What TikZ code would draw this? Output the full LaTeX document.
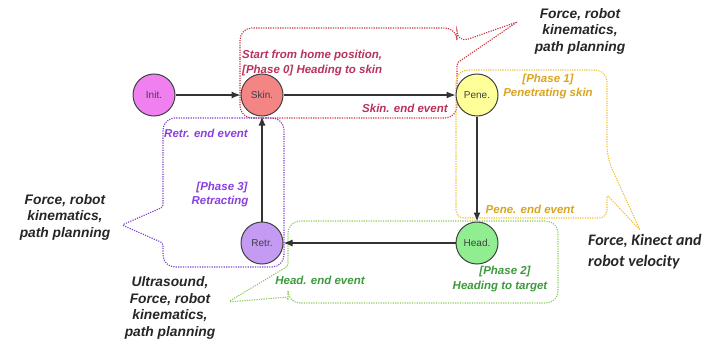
\documentclass[tikz,border=0pt]{standalone}
\usepackage{fontspec}
\setmainfont{Liberation Sans}
\newfontfamily\calib{Carlito}
\usetikzlibrary{arrows.meta}

\definecolor{redtext}{HTML}{B8325A}
\definecolor{redline}{HTML}{C8303C}
\definecolor{yellowtext}{HTML}{D9A520}
\definecolor{yellowline}{HTML}{F0C030}
\definecolor{greentext}{HTML}{3C9A3C}
\definecolor{greenline}{HTML}{8CCB5A}
\definecolor{purpletext}{HTML}{8A3FE0}
\definecolor{purpleline}{HTML}{7A40C8}
\definecolor{initfill}{HTML}{F080F0}
\definecolor{skinfill}{HTML}{F38585}
\definecolor{penefill}{HTML}{FFFF99}
\definecolor{headfill}{HTML}{90EE90}
\definecolor{retrfill}{HTML}{C49AF3}

\begin{document}
\begin{tikzpicture}[x=1pt,y=-1pt,
  state/.style={circle, draw=black!75, line width=1pt, minimum size=42pt,
    inner sep=0pt, font=\fontsize{10}{12}\selectfont, text=black!75},
  flow/.style={draw=black!80, line width=1.2pt, -{Latex[length=9pt,width=7pt]}},
  callout/.style={line width=1.1pt, dash pattern=on 1.2pt off 1.2pt, rounded corners=12pt},
  lbl/.style={font=\fontsize{11.5}{14}\selectfont\bfseries\itshape, inner sep=0pt},
  info/.style={font=\fontsize{13.8}{16.5}\selectfont\bfseries\itshape, align=center,
    inner sep=0pt, text=black!85}]
\useasboundingbox (0,0) rectangle (708,340);

% phase callouts
\draw[callout, redline] (240,70) -- (240,28) -- (457,28) -- (457,43)
  [rounded corners=2pt] -- (517,22) -- (457,63) [rounded corners=12pt]
  -- (457,118) -- (240,118) -- cycle;
\draw[callout, yellowline] (456,140) -- (456,70) -- (607,70) -- (607,158)
  [rounded corners=2pt] -- (640,230) -- (607,195) [rounded corners=8pt]
  -- (607,218) -- (456,218) -- cycle;
\draw[callout, greenline] (400,221) -- (558,221) -- (558,303) -- (288,303)
  [rounded corners=3pt] -- (288,297) -- (228,302) -- (288,266)
  [rounded corners=12pt] -- (288,221) -- cycle;
\draw[callout, purpleline] (220,118) -- (284,118) -- (284,267) -- (163,267)
  [rounded corners=2pt] -- (163,243) -- (122,225) -- (163,207)
  [rounded corners=12pt] -- (163,118) -- cycle;

% states
\node[state, fill=initfill] (init) at (154,95) {Init.};
\node[state, fill=skinfill] (skin) at (262,95) {Skin.};
\node[state, fill=penefill] (pene) at (477,95) {Pene.};
\node[state, fill=headfill] (head) at (477,243) {Head.};
\node[state, fill=retrfill] (retr) at (262,243) {Retr.};

% transitions
\draw[flow] (init) -- (skin);
\draw[flow] (skin) -- (pene);
\draw[flow] (pene) -- (head);
\draw[flow] (head) -- (retr);
\draw[flow] (retr) -- (skin);

% phase labels
\node[lbl, text=redtext, anchor=west] (p0a) at (242,56) {Start from home position,};
\node[lbl, text=redtext, anchor=west] (p0b) at (242,71) {[Phase 0] Heading to skin};
\node[lbl, text=redtext, anchor=west] (e0) at (362,108) {Skin. end event};

\node[lbl, text=yellowtext] (p1a) at (548,80) {[Phase 1]};
\node[lbl, text=yellowtext] (p1b) at (548,94) {Penetrating skin};
\node[lbl, text=yellowtext] (e1) at (530,209) {Pene. end event};

\node[lbl, text=greentext] (p2a) at (505,272) {[Phase 2]};
\node[lbl, text=greentext] (p2b) at (500,287) {Heading to target};
\node[lbl, text=greentext] (e2) at (320,280) {Head. end event};

\node[lbl, text=purpletext] (p3a) at (222,188) {[Phase 3]};
\node[lbl, text=purpletext] (p3b) at (220,202) {Retracting};
\node[lbl, text=purpletext] (e3) at (206,133) {Retr. end event};

% sensing information
\node[info] (s0) at (580,31) {Force, robot\\kinematics,\\path planning};
\node[info] (s3) at (65,217) {Force, robot\\kinematics,\\path planning};
\node[info] (s2) at (170,308) {Ultrasound,\\Force, robot\\kinematics,\\path planning};
\node[info, align=left, anchor=west, font=\calib\fontsize{16}{21}\selectfont\bfseries\itshape]
  (s1) at (588,252) {Force, Kinect and\\robot velocity};
\end{tikzpicture}
\end{document}
